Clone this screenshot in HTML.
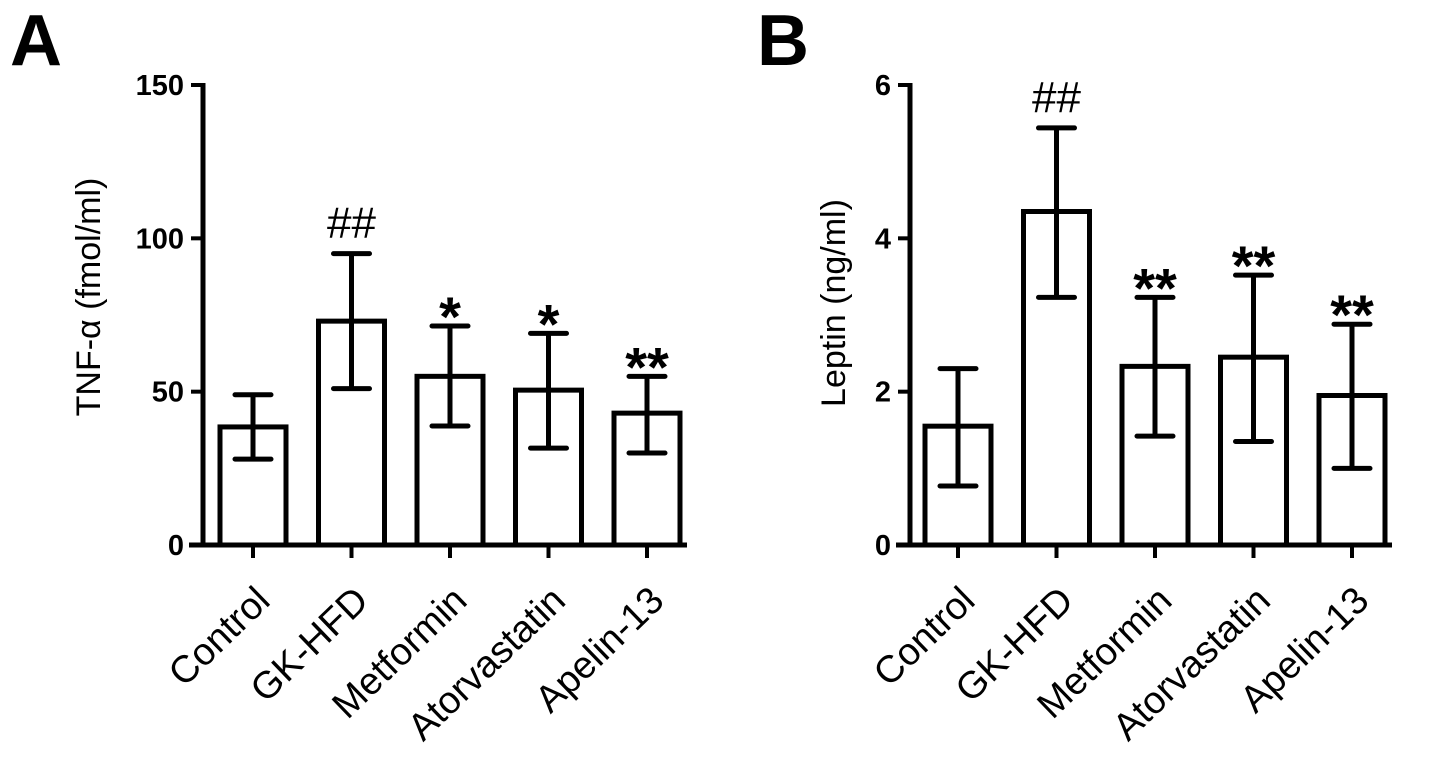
<!DOCTYPE html>
<html><head><meta charset="utf-8"><style>
html,body{margin:0;padding:0;background:#fff;}
svg{display:block;font-family:"Liberation Sans",Arial,sans-serif;}
</style></head><body>
<svg id="chart" width="1441" height="763" viewBox="0 0 1441 763"></svg>
<script>
const categories = ["Control","GK-HFD","Metformin","Atorvastatin","Apelin-13"];
const tnfMeans = [38.5, 73, 55, 50.5, 43];
const tnfUpper = [49, 95, 71.4, 69, 55];
const tnfLower = [28, 51, 38.8, 31.6, 30];
const tnfMarks = ["", "##", "*", "*", "**"];
const tnfTicks = [0, 50, 100, 150];
const lepMeans = [1.55, 4.35, 2.33, 2.45, 1.95];
const lepUpper = [2.3, 5.44, 3.23, 3.52, 2.88];
const lepLower = [0.77, 3.23, 1.42, 1.35, 1.0];
const lepMarks = ["", "##", "**", "**", "**"];
const lepTicks = [0, 2, 4, 6];

const NS = "http://www.w3.org/2000/svg";
const svg = document.getElementById("chart");
function mk(tag, attrs, parent){
  const e = document.createElementNS(NS, tag);
  for (const k in attrs) e.setAttribute(k, attrs[k]);
  (parent||svg).appendChild(e);
  return e;
}

function panel(cfg){
  const g = mk("g", {});
  
  
  const y0 = 545, yTop = 85;
  const y = v => y0 - (v / cfg.max) * (y0 - yTop);
  const xc = i => cfg.firstX + i * 98.5;
  const sw = 5;
  const L = mk("text", {x: cfg.letterX, y: 65, "font-size": 72, "font-weight": "bold"}, g);
  L.textContent = cfg.letter;
  
  
  const ax = mk("line", {x1: cfg.axisX, y1: yTop - 2, x2: cfg.axisX, y2: y0 + 2, stroke: "#000", "stroke-width": sw}, g);
  
  
  const xa = mk("line", {x1: cfg.axisX - 14, y1: y0, x2: xc(4) + 40, y2: y0, stroke: "#000", "stroke-width": sw}, g);
  
  
  cfg.ticks.forEach(t => {
    const tl = mk("line", {x1: cfg.axisX - 12, y1: y(t), x2: cfg.axisX, y2: y(t), stroke: "#000", "stroke-width": 4}, g);
    
    
    const tx = mk("text", {x: cfg.axisX - 19, y: y(t) + 10, "font-size": 29, "font-weight": "bold", "text-anchor": "end"}, g);
    tx.textContent = t;
    
    
  });
  const yt = mk("text", {x: 0, y: 0, "font-size": 34, "text-anchor": "middle", transform: `translate(${cfg.titleX},${cfg.titleY}) rotate(-90)`}, g);
  yt.textContent = cfg.title;
  
  
  categories.forEach((c, i) => {
    const cx = xc(i), w = 66;
    const b = mk("rect", {x: cx - w/2, y: y(cfg.means[i]), width: w, height: y0 - y(cfg.means[i]), fill: "#fff", stroke: "#000", "stroke-width": sw}, g);
    
    
    const eb = mk("path", {d: `M${cx},${y(cfg.upper[i])}V${y(cfg.lower[i])}M${cx-18},${y(cfg.upper[i])}H${cx+18}M${cx-18},${y(cfg.lower[i])}H${cx+18}`, stroke: "#000", "stroke-width": sw, fill: "none", "stroke-linecap": "round"}, g);
    
    
    if (cfg.marks[i]) {
      const hash = cfg.marks[i] === "##";
      const m = mk("text", {x: cx, y: y(cfg.upper[i]) + (hash ? -16 : 10), "font-size": hash ? 44 : 56, "font-weight": hash ? "normal" : "bold", "text-anchor": "middle"}, g);
      m.textContent = cfg.marks[i];
      
      
    }
    const tk = mk("line", {x1: cx, y1: y0, x2: cx, y2: y0 + 13, stroke: "#000", "stroke-width": 4}, g);
    
    
    const lb = mk("text", {x: 0, y: 0, "font-size": 38, "text-anchor": "end", transform: `translate(${cx+19},${y0+58}) rotate(-44)`}, g);
    lb.textContent = c;
    
    
  });
}

panel({id: "tnf", letter: "A", letterX: 10, axisX: 203, firstX: 253, max: 150, ticks: tnfTicks,
  means: tnfMeans, upper: tnfUpper, lower: tnfLower, marks: tnfMarks, title: "TNF-α  (fmol/ml)", titleX: 100, titleY: 297});
panel({id: "leptin", letter: "B", letterX: 757, axisX: 910, firstX: 958, max: 6, ticks: lepTicks,
  means: lepMeans, upper: lepUpper, lower: lepLower, marks: lepMarks, title: "Leptin (ng/ml)", titleX: 845, titleY: 303});
</script>
</body></html>
